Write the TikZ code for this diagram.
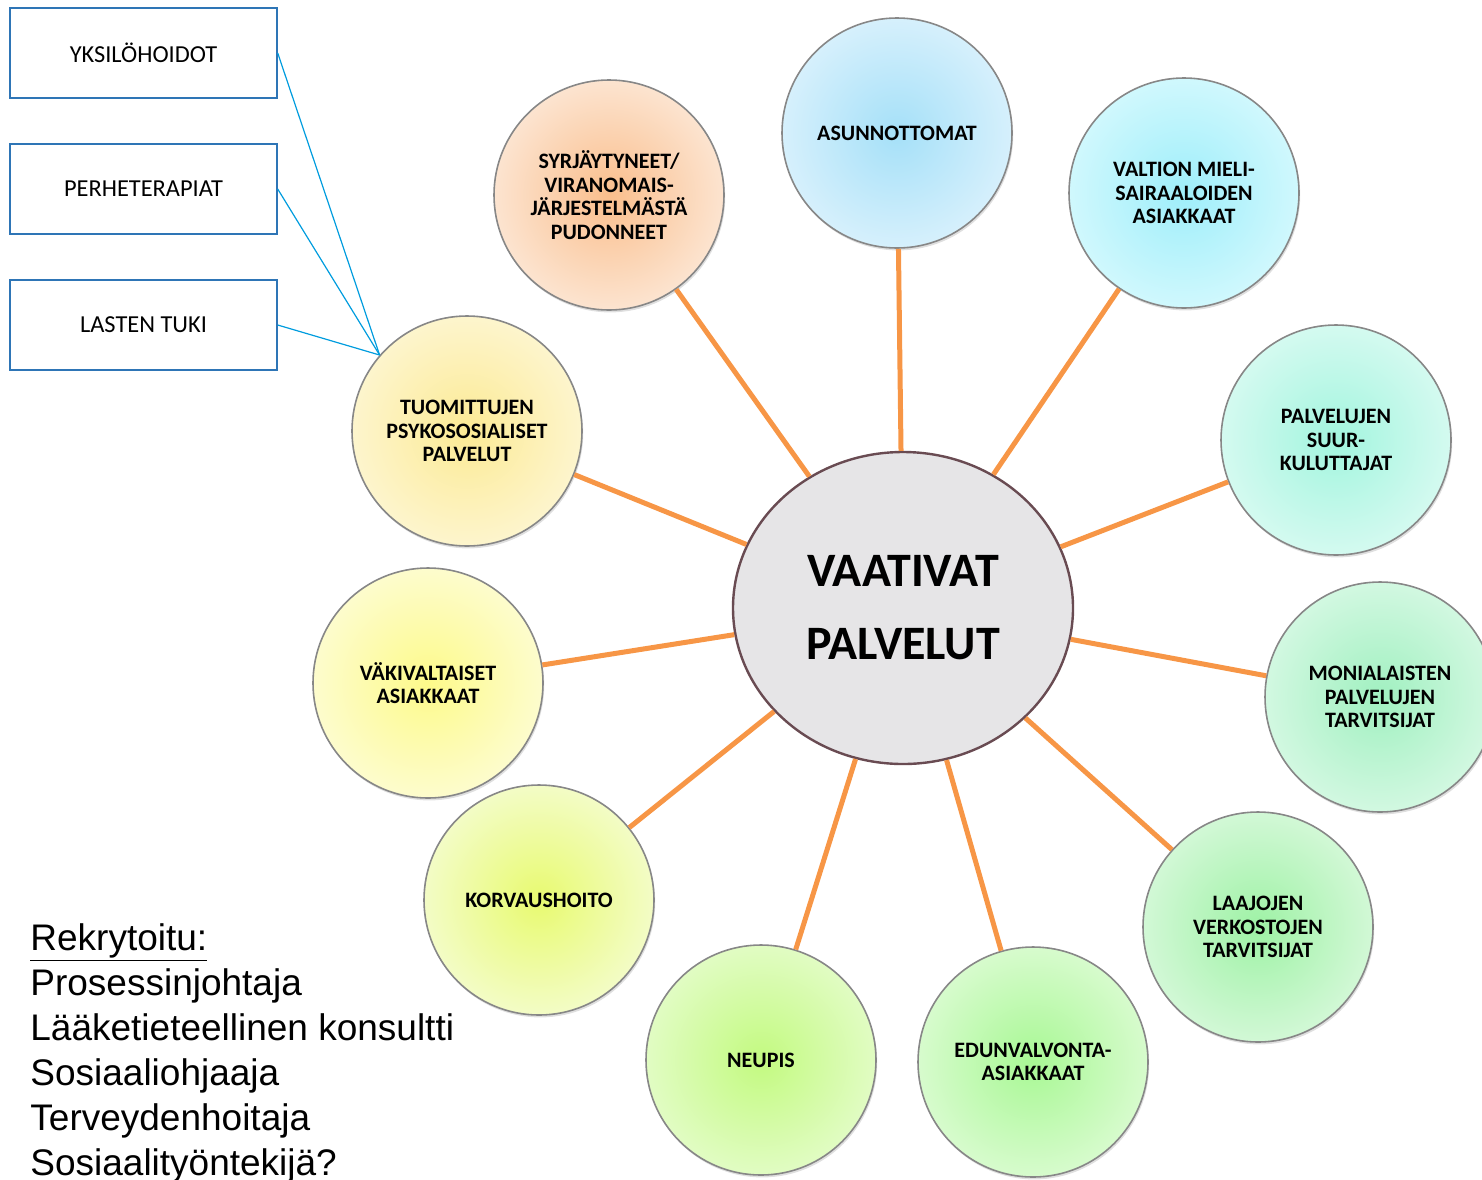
\documentclass[tikz,border=0pt]{standalone}
\usepackage{fontspec}
\setmainfont{Carlito}
\newfontfamily\arialfont{Liberation Sans}
\usetikzlibrary{shapes.geometric,shadows}

\definecolor{oranssi}{RGB}{247,150,70}
\definecolor{reuna}{RGB}{135,135,135}
\definecolor{laatikkosin}{RGB}{46,117,182}
\definecolor{viivasin}{RGB}{0,156,222}
\definecolor{keskitayte}{RGB}{230,229,231}
\definecolor{keskireuna}{RGB}{105,75,82}
\definecolor{syrin}{RGB}{250,190,140}   \definecolor{syrout}{RGB}{252,228,208}
\definecolor{asuin}{RGB}{165,224,248}   \definecolor{asuout}{RGB}{214,240,252}
\definecolor{valin}{RGB}{158,238,250}   \definecolor{valout}{RGB}{208,248,253}
\definecolor{suurin}{RGB}{162,245,222}  \definecolor{suurout}{RGB}{212,250,240}
\definecolor{moniin}{RGB}{160,240,192}  \definecolor{moniout}{RGB}{210,248,225}
\definecolor{laain}{RGB}{158,242,165}   \definecolor{laaout}{RGB}{210,248,214}
\definecolor{eduin}{RGB}{168,248,148}   \definecolor{eduout}{RGB}{215,251,205}
\definecolor{neuin}{RGB}{195,250,128}   \definecolor{neuout}{RGB}{225,252,195}
\definecolor{korin}{RGB}{232,250,112}   \definecolor{korout}{RGB}{243,252,198}
\definecolor{vakin}{RGB}{253,250,138}   \definecolor{vakout}{RGB}{253,252,205}
\definecolor{tuoin}{RGB}{252,234,148}   \definecolor{tuoout}{RGB}{253,245,205}

\tikzset{
    pallo/.style={circle, draw=reuna, line width=0.8pt, minimum size=115pt, inner sep=0pt,
        align=center, font=\fontsize{11}{11.8}\selectfont\bfseries,
        drop shadow={shadow xshift=0.6pt, shadow yshift=-1.2pt, opacity=0.25}},
    keski/.style={ellipse, draw=keskireuna, line width=1.2pt, fill=keskitayte,
        minimum width=170pt, minimum height=156pt, inner sep=0pt, align=center,
        font=\fontsize{24}{36.5}\selectfont\bfseries},
    yhteys/.style={draw=oranssi, line width=2.5pt},
    laatikko/.style={draw=laatikkosin, line width=0.7pt, minimum width=133.5pt,
        minimum height=45pt, inner sep=0pt, font=\fontsize{12.2}{14}\selectfont},
    viiva/.style={draw=viivasin, line width=0.6pt}
}

\begin{document}
\begin{tikzpicture}[x=0.5pt,y=-0.5pt]
    \useasboundingbox (0,0) rectangle (1482,1179);

    \node[keski] (vaat) at (903,608) {VAATIVAT\\PALVELUT};

    \node[pallo, inner color=syrin, outer color=syrout] (syr) at (609,195) {SYRJÄYTYNEET/\\VIRANOMAIS-\\JÄRJESTELMÄSTÄ\\PUDONNEET};
    \node[pallo, inner color=asuin, outer color=asuout] (asu) at (897,133) {ASUNNOTTOMAT};
    \node[pallo, inner color=valin, outer color=valout] (val) at (1184,193) {VALTION MIELI-\\SAIRAALOIDEN\\ASIAKKAAT};
    \node[pallo, inner color=suurin, outer color=suurout] (suur) at (1336,440) {PALVELUJEN\\SUUR-\\KULUTTAJAT};
    \node[pallo, inner color=moniin, outer color=moniout] (moni) at (1380,697) {MONIALAISTEN\\PALVELUJEN\\TARVITSIJAT};
    \node[pallo, inner color=laain, outer color=laaout] (laa) at (1258,927) {LAAJOJEN\\VERKOSTOJEN\\TARVITSIJAT};
    \node[pallo, inner color=eduin, outer color=eduout] (edu) at (1033,1062) {EDUNVALVONTA-\\ASIAKKAAT};
    \node[pallo, inner color=neuin, outer color=neuout] (neu) at (761,1060) {NEUPIS};
    \node[pallo, inner color=korin, outer color=korout] (kor) at (539,900) {KORVAUSHOITO};
    \node[pallo, inner color=vakin, outer color=vakout] (vak) at (428,683) {VÄKIVALTAISET\\ASIAKKAAT};
    \node[pallo, inner color=tuoin, outer color=tuoout] (tuo) at (467,431) {TUOMITTUJEN\\PSYKOSOSIALISET\\PALVELUT};

    \foreach \p in {syr,asu,val,suur,moni,laa,edu,neu,kor,vak,tuo}
        \draw[yhteys] (vaat) -- (\p);

    \node[laatikko] (yksilo) at (143.5,53) {YKSILÖHOIDOT};
    \node[laatikko] (perhe) at (143.5,189) {PERHETERAPIAT};
    \node[laatikko] (lapset) at (143.5,325) {LASTEN TUKI};

    \foreach \b in {yksilo,perhe,lapset}
        \draw[viiva] (\b.east) -- (tuo.139);

    \node[anchor=north west, inner sep=0pt, align=left, font=\arialfont\fontsize{18.5}{22.5}\selectfont] (rekry) at (30,923)
        {\underline{Rekrytoitu:}\\Prosessinjohtaja\\Lääketieteellinen konsultti\\Sosiaaliohjaaja\\Terveydenhoitaja\\Sosiaalityöntekijä?};
\end{tikzpicture}
\end{document}
